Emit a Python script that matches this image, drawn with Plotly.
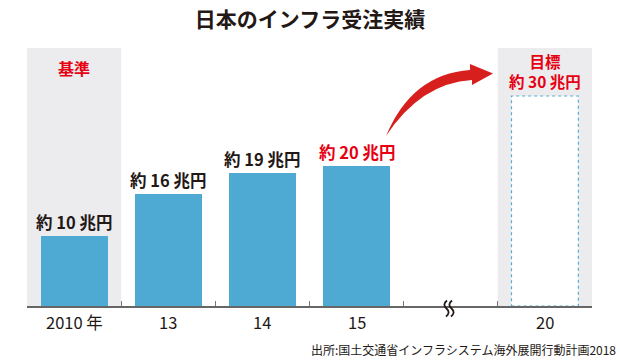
import plotly.graph_objects as go

# ---- data ----
categories = ["2010 年", "13", "14", "15", "", "20"]
actual_values = [10, 16, 19, 20]          # 兆円, for 2010, 13, 14, 15
actual_labels = ["約 10 兆円", "約 16 兆円", "約 19 兆円", "約 20 兆円"]
label_colors = ["#231815", "#231815", "#231815", "#e60012"]
target_value = 30
target_title = "目標"
target_label = "約 30 兆円"
base_label = "基準"
title_text = "日本のインフラ受注実績"
source_text = "出所:国土交通省インフラシステム海外展開行動計画2018"

FONT = "Noto Sans CJK JP"
BAR_COLOR = "#4eaad3"
GRAY = "#ececee"
RED = "#e60012"
DARK = "#231815"
BAR_W = 0.71

# plot geometry (pixels) used for decorations
L, R, B, T = 27, 28, 54, 48
W, H = 620, 360
plot_w = W - L - R
plot_h = H - T - B
y_max = 36.86

def px2x(px):
    return (px - L) / plot_w * len(categories) - 0.5

def px2y(py):
    return (H - B - py) / plot_h * y_max

def P(px, py):
    return f"{px2x(px):.4f},{px2y(py):.4f}"

def PP(px, py):  # paper coordinates
    return f"{(px - L) / plot_w:.5f},{(H - B - py) / plot_h:.5f}"

x_idx = list(range(len(categories)))
fig = go.Figure()

fig.add_trace(go.Bar(
    x=x_idx[:len(actual_values)], y=actual_values, width=BAR_W,
    marker=dict(color=BAR_COLOR, line=dict(width=0)),
    hoverinfo="skip", showlegend=False,
))

shapes = []
# gray reference / target columns
for xi in (0, len(categories) - 1):
    shapes.append(dict(type="rect", xref="x", yref="paper", x0=xi - 0.5, x1=xi + 0.5,
                       y0=0, y1=1, fillcolor=GRAY, line=dict(width=0), layer="below"))
# dashed target bar
tx = len(categories) - 1
shapes.append(dict(type="rect", xref="x", yref="y", x0=tx - BAR_W / 2, x1=tx + BAR_W / 2,
                   y0=0, y1=target_value, fillcolor="white",
                   line=dict(color="#55acd2", width=1.2, dash="3px,3px"), layer="below"))

# curved red arrow
arrow_path = (f"M {P(386,136)} Q {P(412,74)} {P(470,70)} L {P(470,64)} L {P(493,73.5)} "
              f"L {P(472,85)} L {P(472,80)} Q {P(421,83)} {P(386,136)} Z")
shapes.append(dict(type="path", xref="x", yref="y", path=arrow_path,
                   fillcolor="#d7201e", line=dict(width=0), layer="above"))

# axis-break squiggle (two wavy strokes), in paper coords so it is not clipped
for dx in (0, 5):
    sq = (f"M {PP(447+dx,300.5)} Q {PP(442+dx,304.5)} {PP(446.5+dx,308.5)} "
          f"Q {PP(451+dx,312.5)} {PP(446+dx,316.5)}")
    shapes.append(dict(type="path", xref="paper", yref="paper", path=sq,
                       line=dict(color=DARK, width=1.8), layer="above"))

annotations = []
for i, (v, lab, c) in enumerate(zip(actual_values, actual_labels, label_colors)):
    annotations.append(dict(x=i, y=v, xref="x", yref="y", text=f"<b>{lab}</b>",
                            showarrow=False, yanchor="middle", yshift=14,
                            font=dict(family=FONT, size=16.5, color=c)))
annotations.append(dict(x=0, y=px2y(68), xref="x", yref="y", text=f"<b>{base_label}</b>",
                        showarrow=False, yanchor="middle",
                        font=dict(family=FONT, size=16, color=RED)))
annotations.append(dict(x=tx, y=px2y(71), xref="x", yref="y",
                        text=f"<b>{target_title}<br>{target_label}</b>",
                        showarrow=False, yanchor="middle",
                        font=dict(family=FONT, size=15.5, color=RED)))
# category labels
for i, c in enumerate(categories):
    if c:
        annotations.append(dict(x=i, y=0, xref="x", yref="y", text=c, showarrow=False,
                                yanchor="middle", yshift=-16,
                                font=dict(family=FONT, size=16.5, color=DARK)))
# source
annotations.append(dict(x=(618 - L) / plot_w, y=(H - B - 349) / plot_h,
                        xref="paper", yref="paper", text=source_text, showarrow=False,
                        xanchor="right", yanchor="middle",
                        font=dict(family=FONT, size=12, color=DARK)))

fig.update_layout(
    width=W, height=H,
    margin=dict(l=L, r=R, t=T, b=B, pad=0),
    paper_bgcolor="white", plot_bgcolor="white",
    title=dict(text=f"<b>{title_text}</b>", x=0.5, xanchor="center",
               y=1 - 20 / H, yanchor="middle", yref="container",
               font=dict(family=FONT, size=21, color=DARK)),
    xaxis=dict(range=[-0.5, len(categories) - 0.5], showgrid=False, zeroline=False,
               tickmode="array", tickvals=[i - 0.5 for i in range(len(categories) + 1)],
               ticktext=[""] * (len(categories) + 1),
               ticks="inside", ticklen=5, tickcolor="#777", tickwidth=1,
               showline=True, linecolor="#666", linewidth=1.5, fixedrange=True),
    yaxis=dict(range=[0, y_max], visible=False, fixedrange=True),
    shapes=shapes, annotations=annotations, bargap=0,
)

fig.write_html("out.html", config={"displayModeBar": False},
               post_script="document.body.style.margin='0';document.body.style.overflow='hidden';")
